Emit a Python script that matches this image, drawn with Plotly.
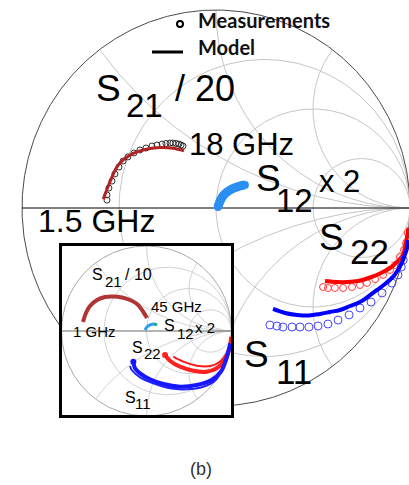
import numpy as np
import plotly.graph_objects as go

# Smith-chart grid (normalized resistance circles and reactance arcs)
GRID_R = [1 / 3, 1, 3]
GRID_X = [0.5, 1, 2]

# ---- main chart: reflection coefficients (real, imag) ----
s21_model_re = [-0.581, -0.546, -0.504, -0.443, -0.375, -0.289, -0.222, -0.165]
s21_model_im = [0.044, 0.133, 0.217, 0.268, 0.293, 0.305, 0.302, 0.289]
s21_meas_re = [-0.562, -0.562, -0.552, -0.536, -0.521, -0.500, -0.479, -0.454, -0.423, -0.392, -0.361,
               -0.330, -0.304, -0.278, -0.258, -0.237, -0.222, -0.206, -0.191, -0.180, -0.170]
s21_meas_im = [0.040, 0.066, 0.101, 0.136, 0.172, 0.207, 0.237, 0.258, 0.278, 0.293, 0.303,
               0.313, 0.318, 0.323, 0.326, 0.328, 0.328, 0.326, 0.323, 0.318, 0.313]

s12_model_re = [0.010, 0.021, 0.036, 0.057, 0.082, 0.108, 0.134, 0.149]
s12_model_im = [0.005, 0.035, 0.061, 0.081, 0.096, 0.106, 0.114, 0.116]

s22_model_re = [0.562, 0.624, 0.675, 0.732, 0.794, 0.851, 0.897, 0.933, 0.964, 0.975, 0.985, 0.992]
s22_model_im = [-0.369, -0.374, -0.374, -0.369, -0.351, -0.328, -0.303, -0.273, -0.237, -0.192, -0.146, -0.100]
s22_meas_re = [0.552, 0.577, 0.613, 0.655, 0.701, 0.742, 0.778, 0.820, 0.861, 0.897, 0.923, 0.948, 0.969, 0.980, 0.988]
s22_meas_im = [-0.399, -0.404, -0.404, -0.404, -0.399, -0.389, -0.379, -0.359, -0.338, -0.313, -0.288,
               -0.247, -0.212, -0.177, -0.126]

s11_model_re = [0.294, 0.356, 0.418, 0.479, 0.536, 0.588, 0.639, 0.691, 0.742, 0.789, 0.830, 0.871,
                0.912, 0.938, 0.960, 0.975, 0.985, 0.990]
s11_model_im = [-0.510, -0.530, -0.540, -0.543, -0.535, -0.525, -0.515, -0.495, -0.475, -0.444, -0.414,
                -0.384, -0.348, -0.313, -0.273, -0.232, -0.202, -0.162]
s11_meas_re = [0.278, 0.314, 0.345, 0.392, 0.433, 0.479, 0.526, 0.577, 0.629, 0.686, 0.742, 0.799,
               0.856, 0.907, 0.938, 0.955, 0.965]
s11_meas_im = [-0.591, -0.596, -0.601, -0.601, -0.601, -0.601, -0.596, -0.586, -0.566, -0.540, -0.505,
               -0.475, -0.429, -0.379, -0.338, -0.298, -0.263]

# ---- inset chart (1 GHz - 45 GHz) ----
in_s21_re = [-0.747, -0.712, -0.665, -0.582, -0.488, -0.394, -0.288, -0.194, -0.112, -0.053, 0.006]
in_s21_im = [0.106, 0.212, 0.294, 0.365, 0.400, 0.406, 0.394, 0.365, 0.318, 0.247, 0.153]
in_s12_re = [-0.018, 0.006, 0.041, 0.088, 0.124]
in_s12_im = [0.012, 0.047, 0.071, 0.082, 0.071]
in_s22a_re = [0.218, 0.276, 0.394, 0.551, 0.708, 0.826, 0.924, 0.982, 0.996]
in_s22a_im = [-0.282, -0.349, -0.420, -0.467, -0.479, -0.439, -0.341, -0.185, -0.067]
in_s22b_re = [0.315, 0.433, 0.591, 0.747, 0.865, 0.951, 0.995]
in_s22b_im = [-0.302, -0.361, -0.408, -0.412, -0.361, -0.244, -0.086]
in_s11a_re = [-0.155, -0.135, -0.076, 0.041, 0.198, 0.394, 0.591, 0.767, 0.875, 0.935, 0.985]
in_s11a_im = [-0.361, -0.439, -0.498, -0.568, -0.624, -0.655, -0.635, -0.576, -0.479, -0.341, -0.145]
in_s11b_re = [-0.194, -0.174, -0.076, 0.080, 0.276, 0.473, 0.668, 0.815, 0.895, 0.972]
in_s11b_im = [-0.412, -0.459, -0.545, -0.615, -0.674, -0.686, -0.655, -0.576, -0.439, -0.224]

W, H = 409, 485
FONT = "Liberation Sans, Arial, sans-serif"
LEGEND_FONT = "Lato, Open Sans, sans-serif"


def grid_paths():
    """Resistance circles and reactance arcs of a Smith chart, joined with gaps."""
    xs, ys = [], []
    t = np.linspace(0, 2 * np.pi, 361)
    for r in GRID_R:
        c, rad = r / (1 + r), 1 / (1 + r)
        xs += list(c + rad * np.cos(t)) + [None]
        ys += list(rad * np.sin(t)) + [None]
    rr = np.concatenate([[0.0], np.logspace(-3, 4, 600)])
    for x in GRID_X:
        for sgn in (1, -1):
            g = (rr + 1j * sgn * x - 1) / (rr + 1j * sgn * x + 1)
            xs += list(g.real) + [None]
            ys += list(g.imag) + [None]
    return xs, ys


def unit_circle():
    t = np.linspace(0, 2 * np.pi, 721)
    return np.cos(t), np.sin(t)


fig = go.Figure()
gx, gy = grid_paths()
ux, uy = unit_circle()

# main Smith chart background
fig.add_trace(go.Scatter(x=gx, y=gy, mode="lines", line=dict(color="#c6c6c6", width=1), hoverinfo="skip"))
fig.add_trace(go.Scatter(x=ux, y=uy, mode="lines", line=dict(color="#4a4a4a", width=1), hoverinfo="skip"))
fig.add_trace(go.Scatter(x=[-1, 1], y=[0, 0], mode="lines", line=dict(color="#000000", width=1), hoverinfo="skip"))

# main data
fig.add_trace(go.Scatter(x=s21_meas_re, y=s21_meas_im, mode="markers",
                         marker=dict(symbol="circle-open", size=6, color="#303030", line=dict(width=1))))
fig.add_trace(go.Scatter(x=s21_model_re, y=s21_model_im, mode="lines", line=dict(color="#b22222", width=3, shape="spline")))
fig.add_trace(go.Scatter(x=s12_model_re, y=s12_model_im, mode="lines+markers", line=dict(color="#2b8ff2", width=9, shape="spline"),
                         marker=dict(size=8, color="#2b8ff2")))
fig.add_trace(go.Scatter(x=s22_meas_re, y=s22_meas_im, mode="markers",
                         marker=dict(symbol="circle-open", size=7, color="#ff3b3b", line=dict(width=1))))
fig.add_trace(go.Scatter(x=s22_model_re, y=s22_model_im, mode="lines", line=dict(color="#ff0000", width=4, shape="spline")))
fig.add_trace(go.Scatter(x=s11_meas_re, y=s11_meas_im, mode="markers",
                         marker=dict(symbol="circle-open", size=8, color="#4646ff", line=dict(width=1))))
fig.add_trace(go.Scatter(x=s11_model_re, y=s11_model_im, mode="lines", line=dict(color="#0000ff", width=4, shape="spline")))

# inset: white panel, grid and data
IX = [-1.0294, 1.0294]
IY = [-1.0235, 1.0353]
fig.add_trace(go.Scatter(x=[IX[0], IX[1], IX[1], IX[0], IX[0]], y=[IY[0], IY[0], IY[1], IY[1], IY[0]],
                         fill="toself", fillcolor="white", mode="lines", line=dict(width=0, color="white"),
                         xaxis="x2", yaxis="y2", hoverinfo="skip"))
fig.add_trace(go.Scatter(x=gx, y=gy, mode="lines", line=dict(color="#d2d2d2", width=1), xaxis="x2", yaxis="y2", hoverinfo="skip"))
fig.add_trace(go.Scatter(x=ux, y=uy, mode="lines", line=dict(color="#a8a8a8", width=1), xaxis="x2", yaxis="y2", hoverinfo="skip"))
fig.add_trace(go.Scatter(x=[-1, 1], y=[0, 0], mode="lines", line=dict(color="#6a6a6a", width=1), xaxis="x2", yaxis="y2", hoverinfo="skip"))

fig.add_trace(go.Scatter(x=in_s21_re, y=in_s21_im, mode="lines", line=dict(color="#b23535", width=4, shape="spline"),
                         xaxis="x2", yaxis="y2"))
fig.add_trace(go.Scatter(x=in_s12_re, y=in_s12_im, mode="lines", line=dict(color="#2b9cf2", width=3, shape="spline"),
                         xaxis="x2", yaxis="y2"))
fig.add_trace(go.Scatter(x=in_s12_re[-2:], y=in_s12_im[-2:], mode="lines", line=dict(color="#22b06a", width=2),
                         xaxis="x2", yaxis="y2"))
fig.add_trace(go.Scatter(x=in_s22a_re, y=in_s22a_im, mode="lines", line=dict(color="#ff2020", width=4, shape="spline"),
                         xaxis="x2", yaxis="y2"))
fig.add_trace(go.Scatter(x=in_s22a_re[:1], y=in_s22a_im[:1], mode="markers", marker=dict(size=6, color="#ff2020"),
                         xaxis="x2", yaxis="y2"))
fig.add_trace(go.Scatter(x=in_s22b_re, y=in_s22b_im, mode="lines", line=dict(color="#ff1a1a", width=2, shape="spline"),
                         xaxis="x2", yaxis="y2"))
fig.add_trace(go.Scatter(x=in_s11a_re, y=in_s11a_im, mode="lines", line=dict(color="#1515ff", width=4, shape="spline"),
                         xaxis="x2", yaxis="y2"))
fig.add_trace(go.Scatter(x=in_s11a_re[:1], y=in_s11a_im[:1], mode="markers", marker=dict(size=6, color="#1515ff"),
                         xaxis="x2", yaxis="y2"))
fig.add_trace(go.Scatter(x=in_s11b_re, y=in_s11b_im, mode="lines", line=dict(color="#2020ff", width=2, shape="spline"),
                         xaxis="x2", yaxis="y2"))


def px(x):
    return x / W


def py(y):
    return 1 - y / H


def label(text, xc, yc, size, color="#000000", family=FONT, anchor="center"):
    fig.add_annotation(text=text, x=px(xc), y=py(yc), xref="paper", yref="paper",
                       xanchor=anchor, yanchor="middle", showarrow=False, borderpad=0,
                       font=dict(family=family, size=size, color=color))


# main chart labels
label("S", 108.5, 88.5, 37)
label("21", 144, 105, 33)
label("/ 20", 205.5, 88.5, 36)
label("18 GHz", 241.5, 144.5, 31)
label("S", 268.5, 178.5, 37)
label("12", 294, 200, 33)
label("x 2", 339, 181, 31)
label("1.5 GHz", 96.5, 221, 32)
label("S", 331.5, 237.5, 37)
label("22", 369, 251, 35)
label("S", 256.5, 354, 37)
label("11", 294, 371, 35)

# legend
label("<b>Measurements</b>", 197, 20.5, 20, color="#111111", family=LEGEND_FONT, anchor="left")
label("<b>Model</b>", 197, 47.5, 20, color="#111111", family=LEGEND_FONT, anchor="left")
fig.add_shape(type="circle", xref="paper", yref="paper", x0=px(177), x1=px(183), y0=py(21), y1=py(27),
              line=dict(color="#000000", width=2))
fig.add_shape(type="line", xref="paper", yref="paper", x0=px(152), x1=px(183), y0=py(52), y1=py(52),
              line=dict(color="#000000", width=3))

# inset labels
label("S", 97.5, 274, 16)
label("21", 113, 281, 15)
label("/ 10", 138.5, 274, 16)
label("45 GHz", 176, 306, 15)
label("1 GHz", 94, 331, 15)
label("S", 169, 325, 16)
label("12", 185, 333, 15)
label("x 2", 205, 327, 15)
label("S", 137.5, 347.5, 16)
label("22", 152.5, 353, 15)
label("S", 130, 397.5, 16)
label("11", 142.5, 403, 15)

# inset frame
fig.add_shape(type="rect", xref="paper", yref="paper", x0=px(60.5), x1=px(232.5), y0=py(244.5), y1=py(416.5),
              line=dict(color="#000000", width=3))

label("(b)", 201, 469, 18, color="#333333")

fig.update_layout(
    width=W, height=H, margin=dict(l=0, r=0, t=0, b=0),
    paper_bgcolor="white", plot_bgcolor="white", showlegend=False,
    xaxis=dict(range=[-216 / 194, 193 / 194], domain=[0, 1], visible=False, fixedrange=True),
    yaxis=dict(range=[(208 - 485) / 198, 208 / 198], domain=[0, 1], visible=False, fixedrange=True),
    xaxis2=dict(range=IX, domain=[59 / W, 234 / W], anchor="y2", visible=False, fixedrange=True),
    yaxis2=dict(range=IY, domain=[(H - 418) / H, (H - 243) / H], anchor="x2", visible=False, fixedrange=True),
)

fig.write_html("out.html", config={"displayModeBar": False})
